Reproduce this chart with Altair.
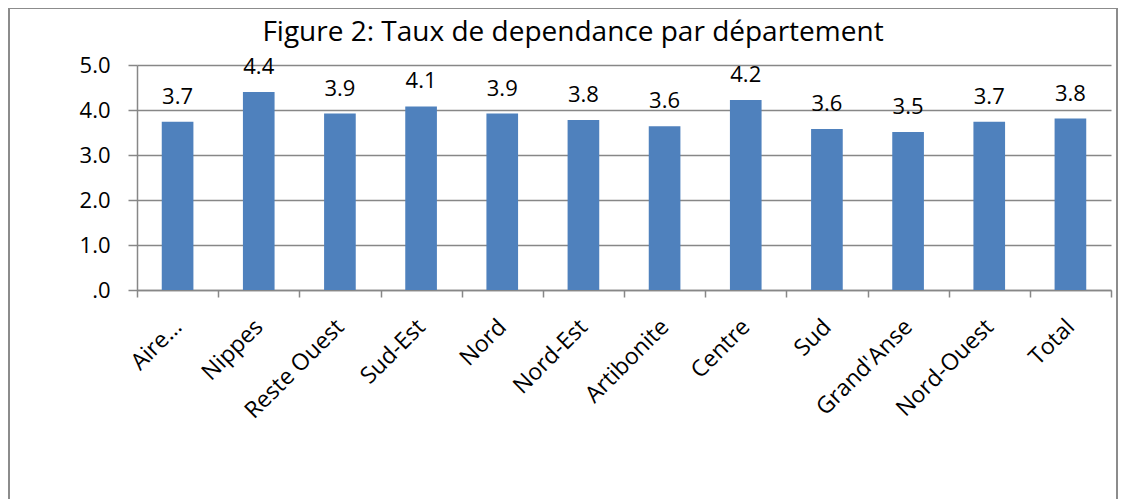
import altair as alt
import pandas as pd

categories = ["Aire…", "Nippes", "Reste Ouest", "Sud-Est", "Nord", "Nord-Est",
              "Artibonite", "Centre", "Sud", "Grand'Anse", "Nord-Ouest", "Total"]
values = [3.74, 4.40, 3.92, 4.08, 3.92, 3.78, 3.64, 4.22, 3.58, 3.51, 3.74, 3.81]
y_ticks = [0, 1, 2, 3, 4, 5]
title_text = "Figure 2: Taux de dependance par département"

df = pd.DataFrame({"cat": categories, "val": values})

FONT = "Open Sans"
GRAY = "#878787"
W, H = 974, 225
PL, PT, PR, PB = 129, 57, 7, 209

x = alt.X("cat:N", sort=categories,
          scale=alt.Scale(paddingInner=0, paddingOuter=0),
          axis=alt.Axis(title=None, labelAngle=-45, labelAlign="right", labelBaseline="middle",
                        labelFontSize=23, labelFont=FONT, labelColor="black",
                        tickBand="extent", tickSize=7, tickColor=GRAY, tickWidth=1.5,
                        domainColor=GRAY, domainWidth=1.5, labelPadding=26, grid=False))
y = alt.Y("val:Q", scale=alt.Scale(domain=[0, 5]),
          axis=alt.Axis(values=y_ticks, title=None,
                        labelExpr="datum.value == 0 ? '.0' : format(datum.value, '.1f')",
                        gridColor=GRAY, gridWidth=1.5, tickColor=GRAY, tickSize=9, tickWidth=1.5,
                        domainColor=GRAY, domainWidth=1.5, labelFontSize=22, labelFont=FONT,
                        labelPadding=18, labelColor="black"))

base = alt.Chart(df)
bars = base.mark_bar(width=alt.RelativeBandSize(0.39), color="#4F81BD").encode(x=x, y=y)
labels = base.mark_text(dy=-18, baseline="alphabetic", fontSize=22, font=FONT, color="black").encode(
    x=x, y=y, text=alt.Text("val:Q", format=".1f"))

frame = alt.Chart(pd.DataFrame({"a": [0]})).mark_rect(
    fillOpacity=0, stroke="#8c8c8c", strokeWidth=2).encode(
    x=alt.value(-PL + 1), x2=alt.value(W + PR - 1),
    y=alt.value(-PT), y2=alt.value(H + PB + 2))

chart = alt.layer(frame, bars, labels).properties(
    width=W, height=H,
    title=alt.TitleParams(title_text, fontSize=28, font=FONT, fontWeight="normal",
                          color="black", anchor="middle", dx=-51, dy=44),
    autosize=alt.AutoSizeParams(type="none"),
    padding={"left": PL, "top": PT, "right": PR, "bottom": PB},
).configure_view(stroke=None)

chart.save("out.html", embed_options={"renderer": "svg", "actions": False})
